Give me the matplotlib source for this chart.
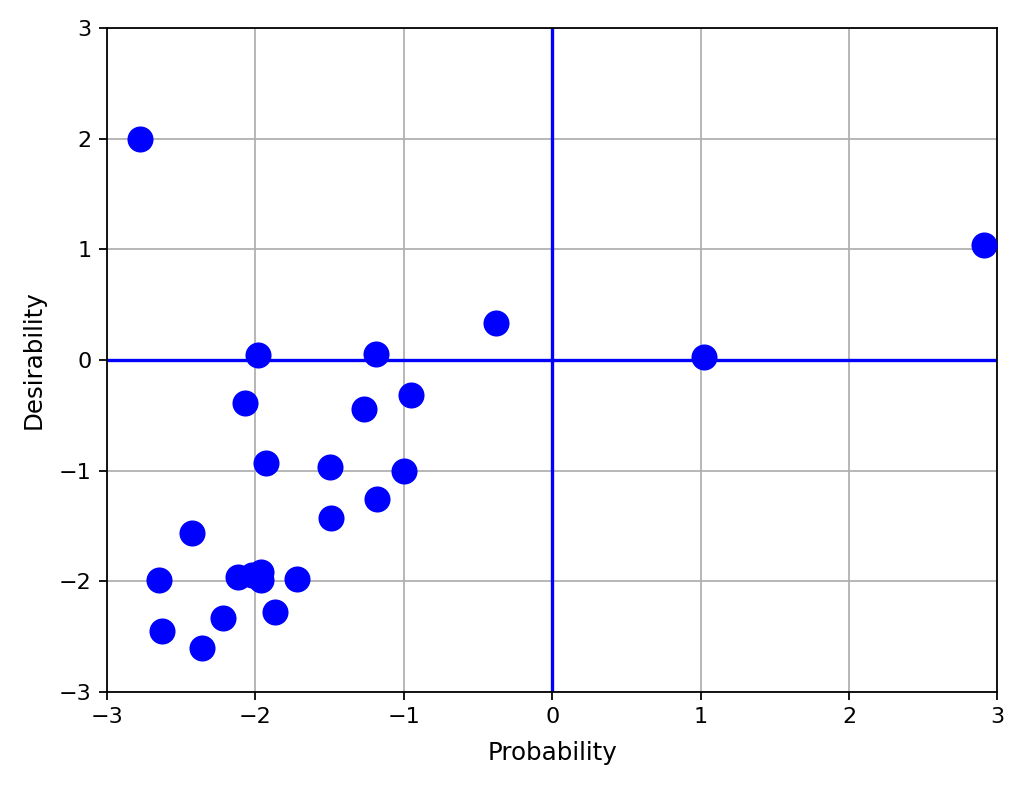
import matplotlib
matplotlib.use("Agg")
import matplotlib.pyplot as plt

# points
probability = [-2.78, 2.91, -0.38, 1.02, -1.98, -1.19, -2.07, -1.27, -0.95,
               -1.93, -1.50, -1.00, -1.18, -1.49, -2.43, -2.65, -2.12, -2.02,
               -1.96, -1.96, -1.72, -1.87, -2.22, -2.63, -2.36]
desirability = [2.00, 1.04, 0.33, 0.03, 0.04, 0.05, -0.39, -0.44, -0.32,
                -0.93, -0.97, -1.00, -1.26, -1.43, -1.56, -1.99, -1.96, -1.94,
                -1.92, -1.99, -1.98, -2.28, -2.33, -2.45, -2.60]

fig = plt.figure(figsize=(6.4, 4.925), dpi=160)
ax = fig.add_axes([0.1045, 0.122, 0.8695, 0.8425])

ax.grid(True)
ax.axhline(0, color="blue", lw=1.5)
ax.axvline(0, color="blue", lw=1.5)
ax.scatter(probability, desirability, color="blue", s=115, zorder=3)

ax.set_xlim(-3, 3)
ax.set_ylim(-3, 3)
ax.set_xlabel("Probability", fontsize=11, labelpad=6)
ax.set_ylabel("Desirability", fontsize=11, labelpad=6)

fig.savefig("out.png", dpi=160)
